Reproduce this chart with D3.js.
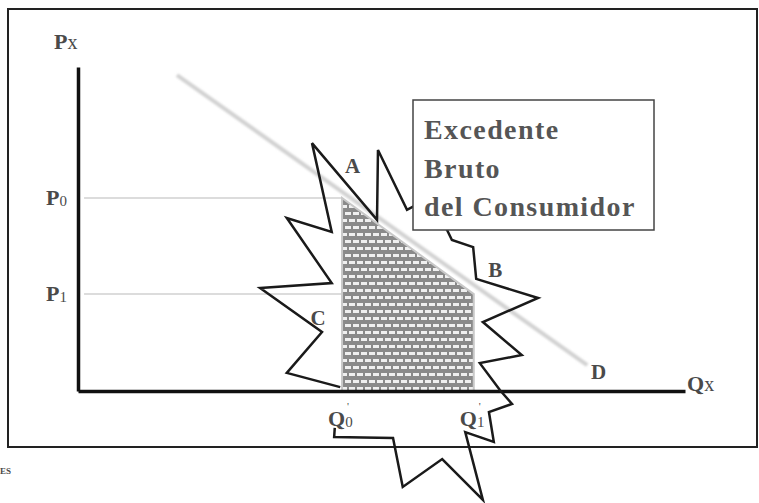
<!DOCTYPE html>
<html>
<head>
<meta charset="UTF-8"/>
<title>Excedente Bruto del Consumidor</title>
<script src="https://d3js.org/d3.v7.min.js"></script>
<style>
body { margin: 0; background: #fff; }
svg { display: block; }
text { font-family: 'Liberation Serif', 'DejaVu Serif', serif; fill: #4a4a4a; font-weight: bold; }
.axis path { stroke: #111; stroke-width: 3.5; }
.axis .tick { display: none; }
.sub { font-weight: normal; }
.box text { font-size: 28px; fill: #555; letter-spacing: 1.4px; }
</style>
</head>
<body>
<svg width="759" height="503"></svg>
<script>
// price levels and quantities (data units 0..100)
const priceLevels = [{ name: 'P', sub: '0', p: 59.6 }, { name: 'P', sub: '1', p: 29.9 }];
const quantities = [{ name: 'Q', sub: '0', q: 43.5 }, { name: 'Q', sub: '1', q: 65.2 }];
const demand = [{ q: 16.3, p: 97.5 }, { q: 83.9, p: 8.0 }];
const pointLabels = [
  { t: 'A', q: 44.0, p: 67.3 },
  { t: 'B', q: 67.6, p: 35.2 },
  { t: 'C', q: 38.3, p: 20.4 },
  { t: 'D', q: 84.5, p: 3.7 }
];
const boxLines = ['Excedente', 'Bruto', 'del Consumidor'];
// callout star outline (q, p)
const star = [
  [43.2, 1.2], [34.4, 5.6], [40.2, 18.2], [30.0, 31.8], [41.8, 33.3], [34.4, 53.4], [41.8, 49.1],
  [38.55, 76.5], [49.26, 52.8], [49.42, 74.4], [54.2, 55.9], [56.3, 58.0], [60.8, 49.7], [61.6, 46.6],
  [65.1, 44.4], [65.6, 34.6], [75.8, 28.7], [66.7, 21.3], [73.1, 11.1], [66.2, 8.6], [69.5, 0.3],
  [71.5, -4.0], [67.7, -6.5], [68.5, -15.7], [63.8, -12.7], [66.7, -33.6], [60.0, -21.0],
  [53.5, -29.6], [51.9, -14.5], [42.2, -14.2], [42.3, -11.4]
];

const svg = d3.select('svg');

const x = d3.scaleLinear().domain([0, 100]).range([78, 685]);
const y = d3.scaleLinear().domain([0, 100]).range([391, 67]);

// frame
svg.append('rect')
  .attr('x', 8).attr('y', 9).attr('width', 749).attr('height', 438)
  .attr('fill', 'none').attr('stroke', '#222').attr('stroke-width', 2);

const defs = svg.append('defs');
const pat = defs.append('pattern')
  .attr('id', 'bricks').attr('patternUnits', 'userSpaceOnUse')
  .attr('width', 16).attr('height', 14);
pat.append('rect').attr('width', 16).attr('height', 14).attr('fill', '#8a8a8a');
[[1, 2], [9, 2], [-3, 9], [5, 9], [13, 9]].forEach(([bx, by]) => {
  pat.append('rect').attr('x', bx).attr('y', by).attr('width', 6).attr('height', 3).attr('fill', '#f0f0f0');
});
defs.append('filter').attr('id', 'blur')
  .append('feGaussianBlur').attr('stdDeviation', 1.3);

// price guide lines
svg.selectAll('line.guide')
  .data(priceLevels)
  .join('line')
  .attr('class', 'guide')
  .attr('x1', x(1)).attr('x2', x(quantities[0].q))
  .attr('y1', d => y(d.p)).attr('y2', d => y(d.p))
  .attr('stroke', '#dcdcdc').attr('stroke-width', 2);

// demand
svg.append('path')
  .datum(demand)
  .attr('d', d3.line().x(d => x(d.q)).y(d => y(d.p)))
  .attr('stroke', '#d2d2d2').attr('stroke-width', 4).attr('fill', 'none')
  .attr('filter', 'url(#blur)');

// gross consumer surplus area
const area = [
  { q: quantities[0].q, p: 0 },
  { q: quantities[0].q, p: priceLevels[0].p },
  { q: quantities[1].q, p: priceLevels[1].p },
  { q: quantities[1].q, p: 0 }
];
svg.append('path')
  .datum(area)
  .attr('d', d3.line().x(d => x(d.q)).y(d => y(d.p)).curve(d3.curveLinearClosed))
  .attr('fill', 'url(#bricks)').attr('stroke', '#c8c8c8').attr('stroke-width', 2);

// axes
svg.append('g').attr('class', 'axis')
  .attr('transform', `translate(0,${y(0)})`)
  .call(d3.axisBottom(x).ticks(0).tickSizeOuter(0));
svg.append('g').attr('class', 'axis')
  .attr('transform', `translate(${x(0)},0)`)
  .call(d3.axisLeft(y).ticks(0).tickSizeOuter(0));

// star callout
svg.append('path')
  .datum(star)
  .attr('d', d3.line().x(d => x(d[0])).y(d => y(d[1])))
  .attr('fill', 'none').attr('stroke', '#1a1a1a').attr('stroke-width', 2.5)
  .attr('stroke-linejoin', 'miter');

// text box
const box = svg.append('g').attr('class', 'box');
box.append('rect')
  .attr('x', 413).attr('y', 100).attr('width', 241).attr('height', 130)
  .attr('fill', '#fff').attr('stroke', '#444').attr('stroke-width', 1.5);
box.selectAll('text')
  .data(boxLines)
  .join('text')
  .attr('x', 424)
  .attr('y', (d, i) => 139 + i * 38.5)
  .text(d => d);

// axis names
svg.append('text').attr('x', 54).attr('y', 49).attr('font-size', 22)
  .call(t => { t.append('tspan').text('P'); t.append('tspan').attr('class', 'sub').attr('font-size', 20).text('x'); });
svg.append('text').attr('x', 687).attr('y', 391).attr('font-size', 22)
  .call(t => { t.append('tspan').text('Q'); t.append('tspan').attr('class', 'sub').attr('font-size', 20).text('x'); });

// price labels
svg.selectAll('text.plab')
  .data(priceLevels)
  .join('text')
  .attr('class', 'plab')
  .attr('x', 46)
  .attr('y', d => y(d.p) + 7)
  .attr('font-size', 22)
  .each(function (d) {
    const t = d3.select(this);
    t.append('tspan').text(d.name);
    t.append('tspan').attr('class', 'sub').attr('font-size', 15).attr('dy', 1).text(d.sub);
  });

// quantity labels
svg.selectAll('text.qlab')
  .data(quantities)
  .join('text')
  .attr('class', 'qlab')
  .attr('x', d => x(d.q) - 14)
  .attr('y', 426)
  .attr('font-size', 22)
  .each(function (d) {
    const t = d3.select(this);
    t.append('tspan').text(d.name);
    t.append('tspan').attr('class', 'sub').attr('font-size', 15).attr('dy', 1).text(d.sub);
  });
svg.selectAll('text.prime')
  .data(quantities)
  .join('text')
  .attr('class', 'prime sub')
  .attr('x', d => x(d.q) + 5)
  .attr('y', 410)
  .attr('font-size', 11)
  .text("'");

// point labels
svg.selectAll('text.pt')
  .data(pointLabels)
  .join('text')
  .attr('class', 'pt')
  .attr('x', d => x(d.q))
  .attr('y', d => y(d.p))
  .attr('font-size', 21)
  .text(d => d.t);

svg.append('text').attr('x', 0).attr('y', 474).attr('font-size', 9).attr('fill', '#666').text('ES');
</script>
</body>
</html>
